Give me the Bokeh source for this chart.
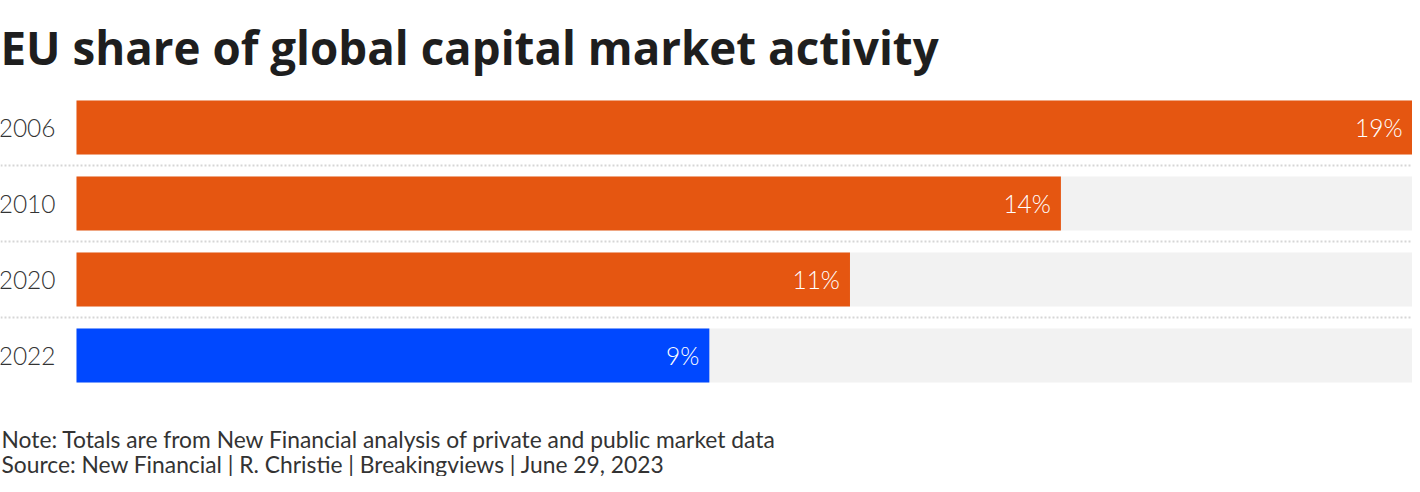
from bokeh.plotting import figure
from bokeh.models import ColumnDataSource, Range1d, Span, LabelSet, Label
from bokeh.core.properties import value
from bokeh.embed import file_html
from bokeh.resources import INLINE

# ---- data ----
years = ["2006", "2010", "2020", "2022"]
shares = [19, 14, 11, 9]
labels = ["19%", "14%", "11%", "9%"]
colors = ["#e55611", "#e55611", "#e55611", "#0048ff"]

title_text = "EU share of global capital market activity"
note_text = "Note: Totals are from New Financial analysis of private and public market data"
source_text = "Source: New Financial | R. Christie | Breakingviews | June 29, 2023"

# ---- layout ----
W, H = 1412, 476
LEFT = 76          # px reserved for the year labels
TOP = 89           # px above the first row (title area)
BAND = 76          # px per row
FONT = "Lato"
LIGHT = "'Lato Light', Lato"
n = len(years)
xmax = max(shares)
xstart = -LEFT * xmax / (W - LEFT)
ymin = n - (H - TOP) / BAND

rows = [n - 0.5 - i for i in range(n)]   # one row per year, first year on top

src = ColumnDataSource(dict(row=rows, year=years, share=shares, label=labels, color=colors,
                            track=[xmax] * n, zero=[0] * n))

p = figure(width=W, height=H, output_backend="svg", toolbar_location=None,
           x_range=Range1d(xstart, xmax), y_range=Range1d(ymin, n),
           x_axis_location=None, y_axis_location=None,
           min_border_left=0, min_border_right=0, min_border_top=TOP, min_border_bottom=0)
p.grid.visible = False
p.outline_line_color = None
p.background_fill_color = "white"
p.border_fill_color = "white"

# title
p.title.text = title_text
p.title.text_font = "Open Sans"
p.title.text_font_size = "45.7px"
p.title.text_font_style = "bold"
p.title.text_color = "#1e1e1e"
p.title.align = "left"
p.title.offset = 0
p.title.standoff = 23

# tracks and bars
p.hbar(y="row", left="zero", right="track", height=0.71, source=src,
       fill_color="#f2f2f2", line_color=None)
p.hbar(y="row", left="zero", right="share", height=0.71, source=src,
       fill_color="color", line_color=None)

# dotted separators between rows
for loc in range(1, n):
    p.add_layout(Span(location=loc, dimension="width", line_color="#d6d6d6",
                      line_width=2, line_dash="2 2"))

# year labels
p.add_layout(LabelSet(x="zero", y="row", text="year", source=src, x_offset=-21,
                      text_align="right", text_baseline="middle",
                      text_font=value(LIGHT), text_font_size=value("24.5px"),
                      text_color="#333333"))
# value labels
p.add_layout(LabelSet(x="share", y="row", text="label", source=src, x_offset=-10,
                      text_align="right", text_baseline="middle",
                      text_font=value(LIGHT), text_font_size=value("24.5px"),
                      text_color="white"))

# footnotes below the last row
for txt, dy in [(note_text, -45), (source_text, -70)]:
    p.add_layout(Label(x=xstart, y=0, x_offset=1, y_offset=dy, text=txt,
                       text_align="left", text_baseline="alphabetic",
                       text_font=FONT, text_font_size="22.8px",
                       text_color="#333333"))

open("out.html", "w").write(file_html(p, INLINE))
